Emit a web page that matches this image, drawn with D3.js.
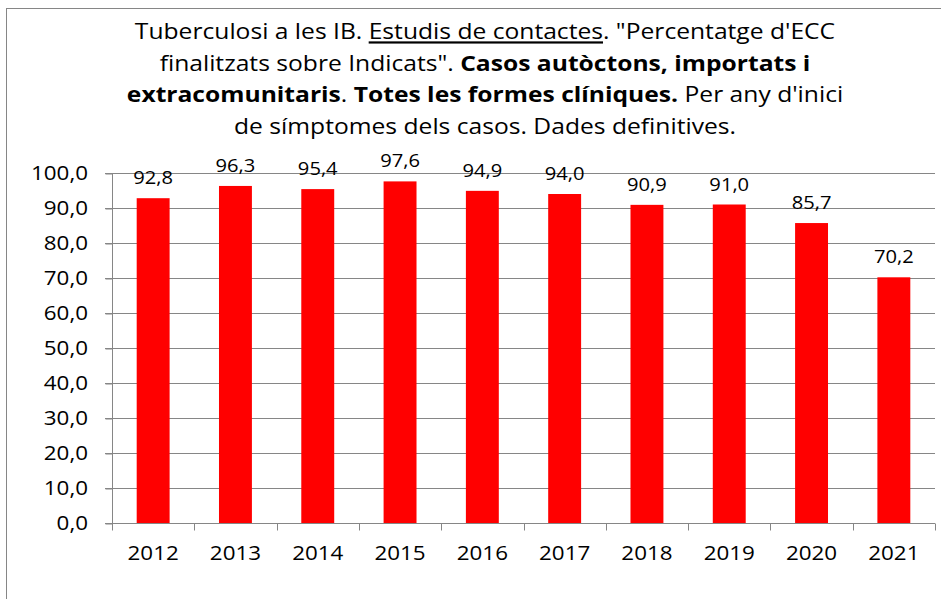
<!DOCTYPE html>
<html>
<head>
<meta charset="utf-8">
<script src="https://cdn.jsdelivr.net/npm/d3@7"></script>
<style>
  body { margin: 0; background: #fff; }
  svg text { font-family: "Open Sans", "Noto Sans", sans-serif; fill: #000; }
</style>
</head>
<body>
<div id="chart"></div>
<script>
// data
var years = ["2012", "2013", "2014", "2015", "2016", "2017", "2018", "2019", "2020", "2021"]
var values = [92.8, 96.3, 95.4, 97.6, 94.9, 94.0, 90.9, 91.0, 85.7, 70.2]
var yTicks = [0, 10, 20, 30, 40, 50, 60, 70, 80, 90, 100]

var width = 941, height = 599
var margin = {left: 112, right: 6, top: 173, bottom: 76}
// the original text is a bit wider than its height suggests
var sx = 1.12

var svg = d3.select("#chart").append("svg")
  .attr("width", width)
  .attr("height", height)

// outer chart border (runs off the right and bottom)
svg.append("rect")
  .attr("x", 6.5).attr("y", 8.5)
  .attr("width", 950).attr("height", 620)
  .attr("fill", "none")
  .attr("stroke", "#868686")
  .attr("stroke-width", 1)

var x = d3.scaleBand()
  .domain(years)
  .range([margin.left, width - margin.right])
  .paddingInner(0.6)
  .paddingOuter(0.3)

var y = d3.scaleLinear()
  .domain([0, 100])
  .range([height - margin.bottom, margin.top])

var fmt = function(v) { return d3.format(".1f")(v).replace(".", ",") }

// puts a text at (px, py) stretched sideways
function place(px, py) { return "translate(" + px + "," + py + ") scale(" + sx + ",1)" }

// title
var title = svg.append("text")
  .attr("transform", place(485, 0))
  .attr("text-anchor", "middle")
  .style("font-size", "22px")
var l1 = title.append("tspan").attr("x", 0).attr("y", 39.5)
l1.append("tspan").text("Tuberculosi a les IB. ")
l1.append("tspan").attr("text-decoration", "underline").text("Estudis de contactes")
l1.append("tspan").text(". \"Percentatge d'ECC")
var l2 = title.append("tspan").attr("x", 0).attr("y", 71)
l2.append("tspan").text("finalitzats sobre Indicats\". ")
l2.append("tspan").attr("font-weight", "bold").text("Casos autòctons, importats i")
var l3 = title.append("tspan").attr("x", 0).attr("y", 102.5)
l3.append("tspan").attr("font-weight", "bold").text("extracomunitaris")
l3.append("tspan").text(". ")
l3.append("tspan").attr("font-weight", "bold").text("Totes les formes clíniques.")
l3.append("tspan").text(" Per any d'inici")
title.append("tspan").attr("x", 0).attr("y", 134)
  .text("de símptomes dels casos. Dades definitives.")

// gridlines
svg.append("g")
  .selectAll("line")
  .data(yTicks.filter(function(d) { return d > 0 }))
  .enter().append("line")
  .attr("x1", margin.left - 7)
  .attr("x2", width - margin.right)
  .attr("y1", function(d) { return Math.round(y(d)) + 0.5 })
  .attr("y2", function(d) { return Math.round(y(d)) + 0.5 })
  .attr("stroke", "#868686")

// bars
svg.append("g")
  .selectAll("rect")
  .data(values)
  .enter().append("rect")
  .attr("x", function(d, i) { return x(years[i]) })
  .attr("width", x.bandwidth())
  .attr("y", function(d) { return y(d) })
  .attr("height", function(d) { return y(0) - y(d) })
  .attr("fill", "#ff0000")

// value labels
svg.append("g")
  .selectAll("text")
  .data(values)
  .enter().append("text")
  .attr("transform", function(d, i) { return place(x(years[i]) + x.bandwidth() / 2, y(d) - 14) })
  .attr("text-anchor", "middle")
  .style("font-size", "18px")
  .text(function(d) { return fmt(d) })

// y axis (line + ticks from d3, labels placed by hand)
var yAxis = svg.append("g")
  .attr("transform", "translate(" + (margin.left + 0.5) + ",0.5)")
  .call(d3.axisLeft(y).tickValues(yTicks).tickFormat("").tickSize(7).tickSizeOuter(0))
yAxis.selectAll("line, path").attr("stroke", "#868686")
yAxis.select(".domain").attr("d", "M0," + y(100) + "V" + y(0))

svg.append("g")
  .selectAll("text")
  .data(yTicks)
  .enter().append("text")
  .attr("transform", function(d) { return place(88, y(d) + 7) })
  .attr("text-anchor", "end")
  .style("font-size", "20px")
  .text(fmt)

// x axis with ticks at category boundaries
var xg = svg.append("g")
  .attr("transform", "translate(0," + (Math.round(y(0)) + 0.5) + ")")
xg.append("line")
  .attr("x1", margin.left - 7).attr("x2", width - margin.right)
  .attr("stroke", "#868686")
var step = x.step()
xg.selectAll(".tick")
  .data(d3.range(years.length + 1))
  .enter().append("line")
  .attr("x1", function(i) { return Math.round(margin.left + i * step) + 0.5 })
  .attr("x2", function(i) { return Math.round(margin.left + i * step) + 0.5 })
  .attr("y1", 0).attr("y2", 7)
  .attr("stroke", "#868686")
xg.selectAll("text")
  .data(years)
  .enter().append("text")
  .attr("transform", function(d) { return place(x(d) + x.bandwidth() / 2, 36.5) })
  .attr("text-anchor", "middle")
  .style("font-size", "20px")
  .text(function(d) { return d })
</script>
</body>
</html>
